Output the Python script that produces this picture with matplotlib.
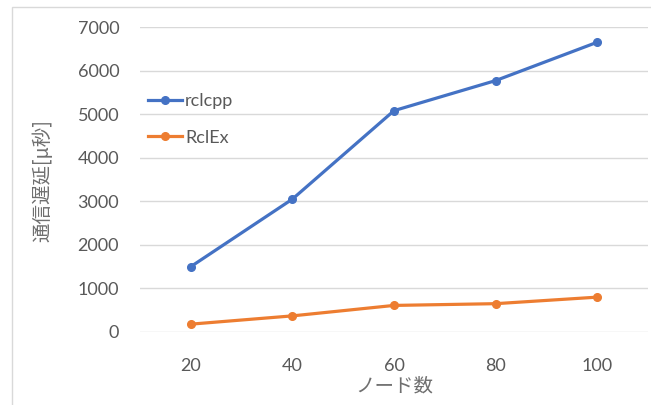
import matplotlib
matplotlib.use("Agg")
import matplotlib.pyplot as plt
from matplotlib.patches import Rectangle

categories = ["20", "40", "60", "80", "100"]
rclcpp = [1500, 3050, 5080, 5770, 6650]
rclex = [180, 370, 610, 650, 800]
yticks = [0, 1000, 2000, 3000, 4000, 5000, 6000, 7000]

plt.rcParams['font.family'] = ['Lato', 'Noto Sans CJK JP', 'DejaVu Sans']

fig = plt.figure(figsize=(6.51, 4.05), dpi=100)
fig.patches.append(Rectangle((12/651, -0.1), 1.2, 1 - 7/405 + 0.1, transform=fig.transFigure,
                             fill=False, edgecolor='#d9d9d9', linewidth=1.0))
ax = fig.add_axes([140/651, 1 - 332/405, 508/651, 305/405])

x = list(range(len(categories)))
ax.plot(x, rclcpp, color='#4472C4', linewidth=2.3, marker='o', markersize=5.5, label='rclcpp', zorder=3)
ax.plot(x, rclex, color='#ED7D31', linewidth=2.3, marker='o', markersize=5.5, label='RclEx', zorder=3)

ax.set_xlim(-0.5, len(categories) - 0.5)
ax.set_ylim(0, 7000)
ax.set_xticks(x)
ax.set_xticklabels(categories)
ax.set_yticks(yticks)
ax.tick_params(axis='both', length=0, labelsize=13, labelcolor='#595959')
ax.tick_params(axis='x', pad=19)
ax.tick_params(axis='y', pad=15)
ax.yaxis.grid(True, color='#d9d9d9', linewidth=1.0)
ax.set_axisbelow(True)
for s in ax.spines.values():
    s.set_visible(False)

ax.set_xlabel('ノード数', fontsize=14, color='#6f6f6f', family=['Noto Sans CJK JP'])
ax.xaxis.set_label_coords(0.5, (332 - 386) / 305)
ax.xaxis.label.set_va('center')
ax.set_ylabel('通信遅延[μ秒]', fontsize=14, color='#6f6f6f', family=['Noto Sans CJK JP', 'DejaVu Sans'])
ax.yaxis.set_label_coords((43 - 140) / 508, (332 - 181) / 305)
ax.yaxis.label.set_va('center')

leg = ax.legend(loc='center left', bbox_to_anchor=(8 / 508, 0.697), frameon=False, fontsize=13,
                labelcolor='#595959', handlelength=1.9, handletextpad=0.15, labelspacing=1.15,
                borderaxespad=0, borderpad=0)

fig.savefig('out.png', dpi=100)
